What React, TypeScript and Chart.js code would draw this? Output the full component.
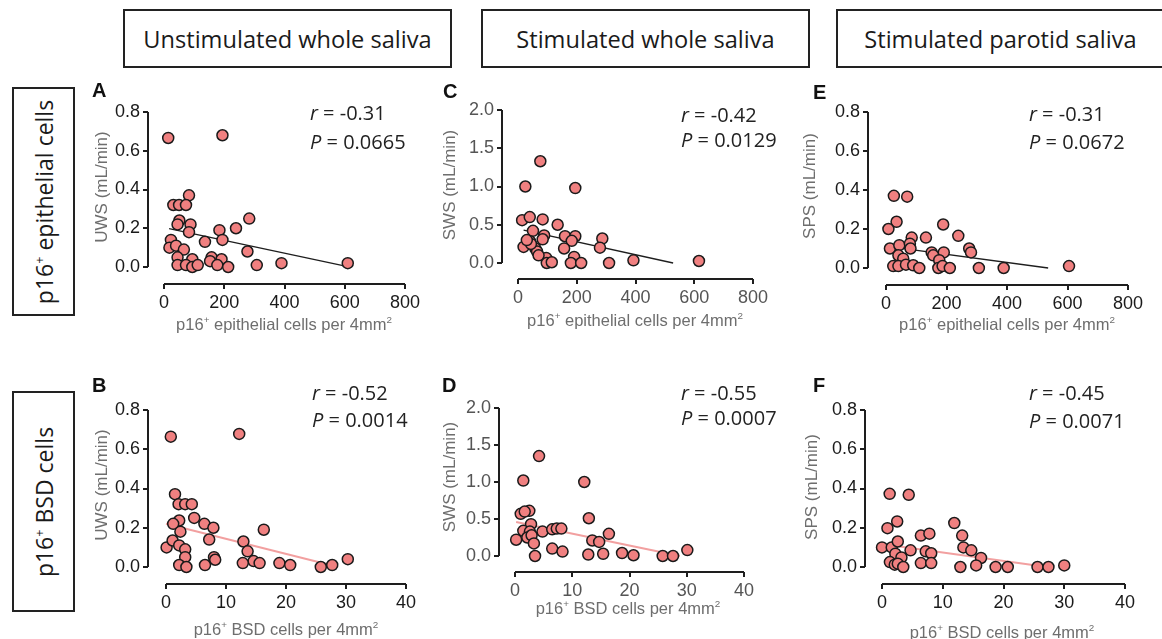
import React, { useEffect, useRef } from 'react';
import { Chart, registerables } from 'chart.js';

Chart.register(...registerables);

// ---------------- data ----------------
const EPI_TICKS = [0, 200, 400, 600, 800];
const BSD_TICKS = [0, 10, 20, 30, 40];
const FLOW_TICKS_SMALL = [0, 0.2, 0.4, 0.6, 0.8];
const FLOW_TICKS_LARGE = [0, 0.5, 1.0, 1.5, 2.0];

const HEADERS = ['Unstimulated whole saliva', 'Stimulated whole saliva', 'Stimulated parotid saliva'];

// A: UWS vs p16+ epithelial cells
const A_X = [14, 194, 83, 31, 50, 73, 51, 45, 88, 83, 283, 239, 184, 194, 136, 23, 18, 40, 66, 277, 45, 94, 158, 191, 390, 610, 45, 73, 94, 112, 153, 177, 213, 308];
const A_Y = [0.666, 0.68, 0.37, 0.32, 0.32, 0.32, 0.24, 0.22, 0.22, 0.18, 0.25, 0.2, 0.19, 0.14, 0.13, 0.14, 0.1, 0.11, 0.09, 0.08, 0.05, 0.04, 0.05, 0.04, 0.02, 0.02, 0.01, 0.01, 0.0, 0.01, 0.03, 0.01, 0.0, 0.01];
const A_FIT_X = [17, 606];
const A_FIT_Y = [0.198, 0.003];

// C: SWS vs p16+ epithelial cells
const C_X = [76, 25, 195, 14, 40, 84, 135, 51, 89, 160, 195, 287, 84, 183, 42, 19, 59, 65, 279, 157, 191, 96, 98, 115, 180, 215, 310, 393, 616, 70, 44, 30];
const C_Y = [1.33, 1.0, 0.98, 0.56, 0.6, 0.57, 0.5, 0.42, 0.36, 0.35, 0.35, 0.32, 0.31, 0.29, 0.28, 0.21, 0.19, 0.15, 0.2, 0.19, 0.08, 0.066, 0.0, 0.01, 0.0, 0.0, 0.0, 0.035, 0.026, 0.1, 0.25, 0.3];
const C_FIT_X = [19, 528];
const C_FIT_Y = [0.43, 0.0];

// E: SPS vs p16+ epithelial cells
const E_X = [26, 70, 35, 8, 189, 239, 132, 85, 13, 44, 79, 81, 275, 281, 151, 191, 41, 57, 156, 176, 24, 41, 66, 90, 110, 173, 187, 211, 307, 389, 605];
const E_Y = [0.37, 0.366, 0.237, 0.2, 0.223, 0.165, 0.156, 0.156, 0.1, 0.117, 0.125, 0.1, 0.1, 0.08, 0.08, 0.08, 0.065, 0.048, 0.065, 0.04, 0.01, 0.01, 0.017, 0.014, 0.0, 0.0, 0.01, 0.0, 0.0, 0.0, 0.01];
const E_FIT_X = [35, 536];
const E_FIT_Y = [0.105, 0.0];

// B: UWS vs p16+ BSD cells
const B_X = [0.8, 12.2, 1.5, 2.1, 3.2, 4.3, 2.2, 1.2, 2.4, 4.7, 6.4, 7.9, 7.2, 16.3, 0.1, 1.1, 2.2, 3.2, 3.2, 12.9, 13.6, 8.0, 8.2, 14.6, 15.6, 12.8, 18.9, 20.7, 25.8, 27.7, 30.3, 2.2, 3.4, 6.5];
const B_Y = [0.664, 0.678, 0.371, 0.32, 0.32, 0.32, 0.237, 0.22, 0.18, 0.25, 0.22, 0.2, 0.14, 0.19, 0.1, 0.135, 0.11, 0.09, 0.05, 0.13, 0.08, 0.05, 0.037, 0.03, 0.02, 0.02, 0.02, 0.01, 0.0, 0.01, 0.04, 0.01, 0.0, 0.01];
const B_FIT_X = [0, 28.7];
const B_FIT_Y = [0.22, 0.0];

// D: SWS vs p16+ BSD cells
const D_X = [4.2, 1.45, 12.1, 1.0, 2.5, 1.7, 12.9, 2.8, 1.45, 4.8, 6.5, 7.3, 8.1, 2.6, 2.15, 2.9, 0.2, 16.4, 13.5, 14.7, 3.3, 6.5, 8.3, 3.5, 12.8, 15.4, 18.7, 20.7, 25.8, 27.6, 30.1];
const D_Y = [1.35, 1.02, 1.0, 0.57, 0.61, 0.6, 0.51, 0.43, 0.34, 0.33, 0.36, 0.37, 0.37, 0.33, 0.25, 0.28, 0.22, 0.3, 0.21, 0.19, 0.17, 0.1, 0.06, 0.0, 0.02, 0.03, 0.04, 0.01, 0.0, 0.0, 0.08];
const D_FIT_X = [0.2, 28.8];
const D_FIT_Y = [0.46, 0.0];

// F: SPS vs p16+ BSD cells
const F_X = [1.26, 4.4, 2.5, 0.9, 11.9, 13.2, 6.4, 7.8, 0, 1.6, 2.6, 4.7, 13.4, 14.7, 7.2, 8.1, 2.2, 3.2, 16.3, 1.3, 2.1, 2.6, 3.5, 6.4, 8.1, 12.9, 15.5, 18.7, 20.7, 25.6, 27.4, 30];
const F_Y = [0.373, 0.368, 0.232, 0.198, 0.224, 0.16, 0.16, 0.17, 0.1, 0.1, 0.13, 0.085, 0.1, 0.085, 0.08, 0.07, 0.068, 0.049, 0.046, 0.025, 0.012, 0.017, 0.0, 0.02, 0.02, 0.0, 0.008, 0.0, 0.0, 0.0, 0.0, 0.008];
const F_FIT_X = [0.8, 26.6];
const F_FIT_Y = [0.113, 0.003];

// ---------------- layout ----------------
const Y_SCALE_W = 70;
const X_SCALE_H = 48;
const PAD_T = 16;
const PAD_R = 28;

type Geom = { yAxisX: number; x0: number; xEnd: number; yTop: number; y0: number; xAxisY: number };
type PanelCfg = {
  letter: string;
  xs: number[]; ys: number[]; fitX: number[]; fitY: number[];
  xTicks: number[]; yTicks: number[];
  yTitle: string; xKind: 'epi' | 'bsd';
  r: string; p: string;
  fitColor: string; fitWidth: number; tickColor: string;
  geom: Geom;
  letterPos: [number, number];
  statPos: [number, number, number];
  yTitlePos: [number, number];
  xTitlePos: [number, number];
};

const PANELS: PanelCfg[] = [
  {
    letter: 'A', xs: A_X, ys: A_Y, fitX: A_FIT_X, fitY: A_FIT_Y, xTicks: EPI_TICKS, yTicks: FLOW_TICKS_SMALL,
    yTitle: 'UWS (mL/min)', xKind: 'epi', r: '-0.31', p: '0.0665', fitColor: '#1e1e1e', fitWidth: 1.3, tickColor: '#1a1a1a',
    geom: { yAxisX: 148, x0: 164, xEnd: 405, yTop: 112, y0: 267, xAxisY: 284 },
    letterPos: [92, 90], statPos: [310, 113, 142], yTitlePos: [102, 187], xTitlePos: [284, 322],
  },
  {
    letter: 'C', xs: C_X, ys: C_Y, fitX: C_FIT_X, fitY: C_FIT_Y, xTicks: EPI_TICKS, yTicks: FLOW_TICKS_LARGE,
    yTitle: 'SWS (mL/min)', xKind: 'epi', r: '-0.42', p: '0.0129', fitColor: '#1e1e1e', fitWidth: 1.3, tickColor: '#555',
    geom: { yAxisX: 502, x0: 518, xEnd: 753, yTop: 110, y0: 263, xAxisY: 279 },
    letterPos: [443, 91], statPos: [681, 115, 140], yTitlePos: [450, 185], xTitlePos: [635, 318],
  },
  {
    letter: 'E', xs: E_X, ys: E_Y, fitX: E_FIT_X, fitY: E_FIT_Y, xTicks: EPI_TICKS, yTicks: FLOW_TICKS_SMALL,
    yTitle: 'SPS (mL/min)', xKind: 'epi', r: '-0.31', p: '0.0672', fitColor: '#1e1e1e', fitWidth: 1.3, tickColor: '#1a1a1a',
    geom: { yAxisX: 868, x0: 886, xEnd: 1128, yTop: 112, y0: 268, xAxisY: 285 },
    letterPos: [813, 92], statPos: [1029, 114, 142], yTitlePos: [810, 186], xTitlePos: [1007, 322],
  },
  {
    letter: 'B', xs: B_X, ys: B_Y, fitX: B_FIT_X, fitY: B_FIT_Y, xTicks: BSD_TICKS, yTicks: FLOW_TICKS_SMALL,
    yTitle: 'UWS (mL/min)', xKind: 'bsd', r: '-0.52', p: '0.0014', fitColor: '#f2a0a0', fitWidth: 2, tickColor: '#1a1a1a',
    geom: { yAxisX: 148, x0: 166, xEnd: 406, yTop: 410, y0: 567, xAxisY: 584 },
    letterPos: [92, 385], statPos: [312, 393, 420], yTitlePos: [102, 485], xTitlePos: [286, 627],
  },
  {
    letter: 'D', xs: D_X, ys: D_Y, fitX: D_FIT_X, fitY: D_FIT_Y, xTicks: BSD_TICKS, yTicks: FLOW_TICKS_LARGE,
    yTitle: 'SWS (mL/min)', xKind: 'bsd', r: '-0.55', p: '0.0007', fitColor: '#f2a0a0', fitWidth: 2, tickColor: '#555',
    geom: { yAxisX: 499, x0: 515, xEnd: 744, yTop: 408, y0: 556, xAxisY: 572 },
    letterPos: [442, 385], statPos: [681, 393, 418], yTitlePos: [450, 477], xTitlePos: [628, 606],
  },
  {
    letter: 'F', xs: F_X, ys: F_Y, fitX: F_FIT_X, fitY: F_FIT_Y, xTicks: BSD_TICKS, yTicks: FLOW_TICKS_SMALL,
    yTitle: 'SPS (mL/min)', xKind: 'bsd', r: '-0.45', p: '0.0071', fitColor: '#f2a0a0', fitWidth: 2, tickColor: '#1a1a1a',
    geom: { yAxisX: 865, x0: 882, xEnd: 1125, yTop: 410, y0: 567, xAxisY: 584 },
    letterPos: [813, 385], statPos: [1029, 393, 421], yTitlePos: [812, 487], xTitlePos: [1002, 630],
  },
];

const SANS = '"Liberation Sans", Arial, Helvetica, sans-serif';
const BODY = '"Open Sans", "Noto Sans", sans-serif';

const axisLinePlugin = {
  id: 'prismAxes',
  beforeDatasetsDraw(chart: any) {
    const { ctx, chartArea } = chart;
    const x = chart.scales.x;
    const y = chart.scales.y;
    ctx.save();
    ctx.strokeStyle = '#1e1e1e';
    ctx.lineWidth = 2;
    ctx.beginPath();
    ctx.moveTo(chartArea.left, y.getPixelForValue(y.max));
    ctx.lineTo(chartArea.left, y.getPixelForValue(0));
    ctx.moveTo(x.getPixelForValue(0), chartArea.bottom);
    ctx.lineTo(x.getPixelForValue(x.max), chartArea.bottom);
    ctx.stroke();
    ctx.restore();
  },
};

function Panel({ cfg }: { cfg: PanelCfg }) {
  const ref = useRef<HTMLCanvasElement>(null);
  const g = cfg.geom;
  const L = g.yAxisX - Y_SCALE_W;
  const T = g.yTop - PAD_T;
  const W = g.xEnd + PAD_R - L;
  const H = g.xAxisY + X_SCALE_H - T;

  useEffect(() => {
    const xMax = cfg.xTicks[cfg.xTicks.length - 1];
    const yMax = cfg.yTicks[cfg.yTicks.length - 1];
    const xMin = (-(g.x0 - g.yAxisX) * xMax) / (g.xEnd - g.x0);
    const yMin = (-(g.xAxisY - g.y0) * yMax) / (g.y0 - g.yTop);
    const chart = new Chart(ref.current as HTMLCanvasElement, {
      type: 'scatter',
      data: {
        datasets: [
          {
            data: cfg.xs.map((x, i) => ({ x, y: cfg.ys[i] })),
            backgroundColor: '#F08080',
            borderColor: '#1a1a1a',
            borderWidth: 1.5,
            pointRadius: 5.5,
            clip: false,
            order: 0,
          } as any,
          {
            type: 'line',
            data: cfg.fitX.map((x, i) => ({ x, y: cfg.fitY[i] })),
            borderColor: cfg.fitColor,
            borderWidth: cfg.fitWidth,
            pointRadius: 0,
            showLine: true,
            fill: false,
            clip: false,
            order: 1,
          } as any,
        ],
      },
      options: {
        animation: false,
        responsive: false,
        events: [],
        layout: { padding: { top: PAD_T, right: PAD_R, left: 0, bottom: 0 } },
        plugins: { legend: { display: false }, tooltip: { enabled: false } },
        scales: {
          x: {
            type: 'linear',
            min: xMin,
            max: xMax,
            afterBuildTicks: (s: any) => { s.ticks = cfg.xTicks.map((v) => ({ value: v })); },
            afterFit: (s: any) => { s.height = X_SCALE_H; },
            grid: { display: true, drawOnChartArea: false, drawTicks: true, tickLength: 5, color: '#1e1e1e', lineWidth: 2 },
            border: { display: false },
            ticks: { padding: 3, color: cfg.tickColor, font: { family: SANS, size: 18 }, maxRotation: 0, autoSkip: false, callback: (v: any) => String(v) },
          },
          y: {
            type: 'linear',
            min: yMin,
            max: yMax,
            afterBuildTicks: (s: any) => { s.ticks = cfg.yTicks.map((v) => ({ value: v })); },
            afterFit: (s: any) => { s.width = Y_SCALE_W; },
            grid: { display: true, drawOnChartArea: false, drawTicks: true, tickLength: 5, color: '#1e1e1e', lineWidth: 2 },
            border: { display: false },
            ticks: { padding: 3, color: cfg.tickColor, font: { family: SANS, size: 18 }, autoSkip: false, callback: (v: any) => Number(v).toFixed(1) },
          },
        },
      } as any,
      plugins: [axisLinePlugin],
    });
    return () => chart.destroy();
  }, []);

  const sup = { fontSize: '0.6em' };
  const xTitle =
    cfg.xKind === 'epi' ? (
      <>p16<sup style={sup}>+</sup> epithelial cells per 4mm<sup style={sup}>2</sup></>
    ) : (
      <>p16<sup style={sup}>+</sup> BSD cells per 4mm<sup style={sup}>2</sup></>
    );

  return (
    <>
      <canvas ref={ref} width={W} height={H} style={{ position: 'absolute', left: L, top: T, width: W, height: H }} />
      <div style={{ position: 'absolute', left: cfg.letterPos[0], top: cfg.letterPos[1] - 10, fontFamily: SANS, fontWeight: 'bold', fontSize: 20, lineHeight: '20px', color: '#111' }}>
        {cfg.letter}
      </div>
      <div style={{ position: 'absolute', left: cfg.statPos[0], top: cfg.statPos[1] - 10, fontFamily: BODY, fontSize: 20, lineHeight: '20px', color: '#222', whiteSpace: 'nowrap' }}>
        <i>r</i> = {cfg.r}
      </div>
      <div style={{ position: 'absolute', left: cfg.statPos[0], top: cfg.statPos[2] - 10, fontFamily: BODY, fontSize: 20, lineHeight: '20px', color: '#222', whiteSpace: 'nowrap' }}>
        <i>P</i> = {cfg.p}
      </div>
      <div style={{ position: 'absolute', left: cfg.yTitlePos[0], top: cfg.yTitlePos[1], transform: 'translate(-50%, -50%) rotate(-90deg)', fontFamily: SANS, fontSize: 17, lineHeight: '18px', color: '#6e6e6e', whiteSpace: 'nowrap' }}>
        {cfg.yTitle}
      </div>
      <div style={{ position: 'absolute', left: cfg.xTitlePos[0], top: cfg.xTitlePos[1], transform: 'translate(-50%, -50%)', fontFamily: SANS, fontSize: 16.5, lineHeight: '18px', color: '#6e6e6e', whiteSpace: 'nowrap' }}>
        {xTitle}
      </div>
    </>
  );
}

const HEADER_BOXES = [
  { left: 123, width: 329 },
  { left: 481, width: 329 },
  { left: 836, width: 329 },
];

export default function App() {
  return (
    <div style={{ position: 'fixed', left: 0, top: 0, width: 1162, height: 639, overflow: 'hidden', background: '#fff' }}>
      {HEADER_BOXES.map((b, i) => (
        <div key={i} style={{ position: 'absolute', left: b.left, top: 9, width: b.width, height: 59, boxSizing: 'border-box', border: '2px solid #222', display: 'flex', alignItems: 'center', justifyContent: 'center', fontFamily: BODY, fontSize: 23.6, color: '#1a1a1a', whiteSpace: 'nowrap' }}>
          {HEADERS[i]}
        </div>
      ))}
      <div style={{ position: 'absolute', left: 12, top: 87, width: 63, height: 229, boxSizing: 'border-box', border: '2px solid #222' }}>
        <div style={{ position: 'absolute', left: '50%', top: '50%', transform: 'translate(-50%, -50%) rotate(-90deg)', fontFamily: BODY, fontSize: 23, color: '#1a1a1a', whiteSpace: 'nowrap' }}>
          p16<sup style={{ fontSize: '0.55em' }}>+</sup> epithelial cells
        </div>
      </div>
      <div style={{ position: 'absolute', left: 12, top: 391, width: 63, height: 221, boxSizing: 'border-box', border: '2px solid #222' }}>
        <div style={{ position: 'absolute', left: '50%', top: '50%', transform: 'translate(-50%, -50%) rotate(-90deg)', fontFamily: BODY, fontSize: 23, color: '#1a1a1a', whiteSpace: 'nowrap' }}>
          p16<sup style={{ fontSize: '0.55em' }}>+</sup> BSD cells
        </div>
      </div>
      {PANELS.map((p) => (
        <Panel key={p.letter} cfg={p} />
      ))}
    </div>
  );
}
